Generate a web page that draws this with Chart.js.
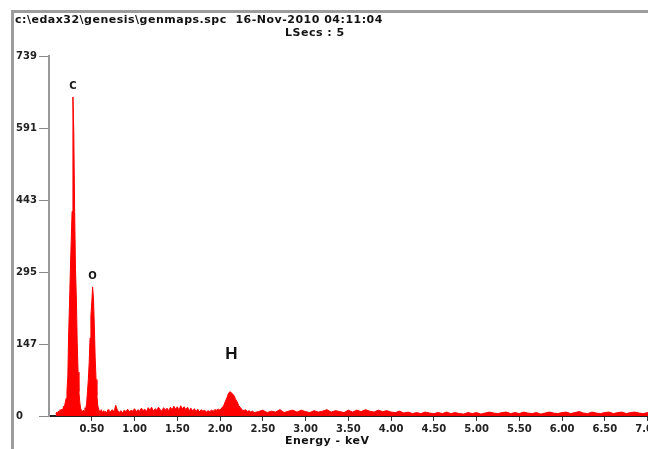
<!DOCTYPE html>
<html>
<head>
<meta charset="utf-8">
<script src="https://cdn.jsdelivr.net/npm/chart.js@4.4.1/dist/chart.umd.min.js"></script>
<style>
  html, body { margin: 0; padding: 0; background: #fff; overflow: hidden; }
  #wrap { position: relative; width: 648px; height: 449px; overflow: hidden; }
  #frame { position: absolute; left: 11px; top: 10px; right: -20px; bottom: -20px;
           border-top: 3px solid #9c9c9c; border-left: 3px solid #9c9c9c; }
  canvas { position: absolute; left: 0; top: 0; }
</style>
</head>
<body>
<div id="wrap">
  <div id="frame"></div>
  <canvas id="spectrum" width="662" height="449"></canvas>
</div>
<script>
// header text
const headerLine = 'c:\\edax32\\genesis\\genmaps.spc  16-Nov-2010 04:11:04';
const lsecsLine = 'LSecs : 5';
const axisTitle = 'Energy - keV';

// axis ticks
const yTicks = [0, 147, 295, 443, 591, 739];
const xTicks = [0.5, 1.0, 1.5, 2.0, 2.5, 3.0, 3.5, 4.0, 4.5, 5.0, 5.5, 6.0, 6.5, 7.0];

// peak labels
const peakNames = ['C', 'O', 'H'];
const peakKeV = [0.28, 0.51, 2.12];
const peakCounts = [655, 265, 50];

// spectrum, C and O region (keV / counts)
const lowKeV = [0.08, 0.09, 0.10, 0.11, 0.12, 0.13, 0.14, 0.15, 0.16, 0.17, 0.18, 0.19,
  0.20, 0.21, 0.22, 0.23, 0.24, 0.25, 0.26, 0.27, 0.28, 0.29, 0.30, 0.31, 0.32, 0.33,
  0.34, 0.35, 0.36, 0.37, 0.38, 0.39, 0.40, 0.41, 0.42, 0.43, 0.44, 0.45, 0.46, 0.47,
  0.48, 0.49, 0.50, 0.51, 0.52, 0.53, 0.54, 0.55, 0.56, 0.57, 0.58, 0.59, 0.60, 0.61,
  0.62, 0.63, 0.64, 0.65, 0.66, 0.67, 0.68, 0.69, 0.70];
const lowCounts = [4, 8, 5, 10, 7, 13, 9, 14, 12, 20, 18, 28,
  36, 52, 80, 170, 230, 300, 360, 420, 655, 580, 420, 300, 240, 150,
  90, 50, 28, 16, 11, 8, 12, 10, 17, 15, 26, 50, 75, 110,
  160, 205, 232, 265, 242, 185, 120, 75, 42, 22, 14, 10, 8, 13,
  9, 6, 11, 7, 10, 6, 9, 13, 8];

// spectrum, background up to the H peak
const midKeV = [0.72, 0.74, 0.76, 0.78, 0.80, 0.82, 0.84, 0.86, 0.88, 0.90, 0.92, 0.94,
  0.96, 0.98, 1.00, 1.02, 1.04, 1.06, 1.08, 1.10, 1.12, 1.14, 1.16, 1.18, 1.20, 1.22,
  1.24, 1.26, 1.28, 1.30, 1.32, 1.34, 1.36, 1.38, 1.40, 1.42, 1.44, 1.46, 1.48, 1.50,
  1.52, 1.54, 1.56, 1.58, 1.60, 1.62, 1.64, 1.66, 1.68, 1.70, 1.72, 1.74, 1.76, 1.78,
  1.80, 1.82, 1.84, 1.86, 1.88, 1.90, 1.92, 1.94];
const midCounts = [9, 13, 8, 22, 12, 7, 11, 6, 12, 9, 14, 8,
  12, 10, 15, 9, 13, 10, 16, 11, 14, 9, 17, 12, 18, 10,
  15, 12, 18, 13, 10, 17, 12, 16, 11, 18, 13, 20, 14, 19,
  12, 21, 15, 19, 13, 18, 11, 16, 10, 15, 9, 14, 8, 13,
  10, 12, 8, 11, 9, 12, 10, 13];

// spectrum, H peak
const hKeV = [1.96, 1.98, 2.00, 2.02, 2.04, 2.06, 2.08, 2.10, 2.12, 2.14, 2.16, 2.18,
  2.20, 2.22, 2.24, 2.26, 2.28, 2.30, 2.32, 2.34, 2.36, 2.38, 2.40];
const hCounts = [12, 14, 12, 17, 20, 29, 37, 47, 50, 46, 43, 35,
  29, 21, 17, 12, 11, 13, 9, 11, 8, 10, 7];

// spectrum, high energy tail
const tailKeV = [2.45, 2.50, 2.55, 2.60, 2.65, 2.70, 2.75, 2.80, 2.85, 2.90, 2.95, 3.00,
  3.05, 3.10, 3.15, 3.20, 3.25, 3.30, 3.35, 3.40, 3.45, 3.50, 3.55, 3.60, 3.65, 3.70,
  3.75, 3.80, 3.85, 3.90, 3.95, 4.00, 4.05, 4.10, 4.15, 4.20, 4.25, 4.30, 4.35, 4.40,
  4.45, 4.50, 4.55, 4.60, 4.65, 4.70, 4.75, 4.80, 4.85, 4.90, 4.95, 5.00, 5.05, 5.10,
  5.15, 5.20, 5.25, 5.30, 5.35, 5.40, 5.45, 5.50, 5.55, 5.60, 5.65, 5.70, 5.75, 5.80,
  5.85, 5.90, 5.95, 6.00, 6.05, 6.10, 6.15, 6.20, 6.25, 6.30, 6.35, 6.40, 6.45, 6.50,
  6.55, 6.60, 6.65, 6.70, 6.75, 6.80, 6.85, 6.90, 6.95, 7.00, 7.05];
const tailCounts = [9, 12, 7, 10, 8, 13, 7, 10, 12, 8, 12, 9,
  7, 11, 8, 10, 13, 8, 11, 9, 7, 12, 8, 12, 9, 13,
  10, 8, 12, 9, 11, 8, 7, 10, 6, 8, 5, 7, 5, 8,
  6, 5, 7, 5, 8, 5, 7, 5, 4, 7, 5, 7, 4, 6,
  8, 6, 5, 7, 8, 5, 7, 5, 8, 6, 5, 7, 4, 6,
  8, 6, 5, 7, 8, 5, 7, 9, 6, 5, 8, 6, 5, 7,
  8, 5, 7, 8, 5, 7, 8, 6, 5, 7, 6];

const energies = lowKeV.concat(midKeV, hKeV, tailKeV);
const counts = lowCounts.concat(midCounts, hCounts, tailCounts);
const points = energies.map((e, i) => ({ x: e, y: counts[i] }));

const labelFont = 'DejaVu Sans';

// header, axis title and peak names
const textPlugin = {
  id: 'spectrumText',
  afterDraw(chart) {
    const c = chart.ctx;
    const xs = chart.scales.x, ys = chart.scales.y;
    c.save();
    c.fillStyle = '#111';
    c.textBaseline = 'middle';
    c.font = 'bold 11px "' + labelFont + '"';
    c.letterSpacing = '0.5px';
    c.textAlign = 'left';
    c.fillText(headerLine, 15, 20);
    c.fillText(lsecsLine, 285, 33);
    c.fillText(axisTitle, 285, 441);
    c.letterSpacing = '0px';
    c.textAlign = 'center';
    peakNames.forEach((name, i) => {
      const px = xs.getPixelForValue(peakKeV[i]);
      const py = ys.getPixelForValue(peakCounts[i]);
      if (name === 'H') {
        c.font = 'bold 17px "Liberation Sans"';
        c.fillText(name, px + 1, py - 37);
      } else {
        c.font = 'bold 10px "' + labelFont + '"';
        c.fillText(name, px, py - 11);
      }
    });
    c.restore();
  }
};

const ctx = document.getElementById('spectrum').getContext('2d');
new Chart(ctx, {
  type: 'line',
  data: {
    datasets: [{
      data: points,
      borderColor: '#ff0000',
      backgroundColor: '#ff0000',
      borderWidth: 1,
      pointRadius: 0,
      fill: 'origin',
      tension: 0
    }]
  },
  options: {
    responsive: false,
    animation: false,
    layout: { padding: { top: 56, right: 10, left: 16, bottom: 0 } },
    plugins: { legend: { display: false }, tooltip: { enabled: false } },
    scales: {
      x: {
        type: 'linear',
        min: 0,
        max: 7.05,
        afterBuildTicks: s => { s.ticks = xTicks.map(v => ({ value: v })); },
        afterFit: s => { s.height = 33; },
        grid: { drawOnChartArea: false, tickLength: 5, color: '#333' },
        border: { color: '#222', width: 2 },
        ticks: {
          color: '#222', padding: 2, maxRotation: 0, autoSkip: false,
          font: { family: labelFont, size: 10, weight: 'bold' },
          callback: v => v.toFixed(2)
        }
      },
      y: {
        min: 0,
        max: 739,
        afterBuildTicks: s => { s.ticks = yTicks.map(v => ({ value: v })); },
        afterFit: s => { s.width = 33; },
        grid: { drawOnChartArea: false, tickLength: 10, color: '#888' },
        border: { color: '#999', width: 2 },
        ticks: {
          color: '#222', padding: 2, crossAlign: 'far', autoSkip: false,
          font: { family: labelFont, size: 10, weight: 'bold' }
        }
      }
    }
  },
  plugins: [textPlugin]
});
</script>
</body>
</html>
